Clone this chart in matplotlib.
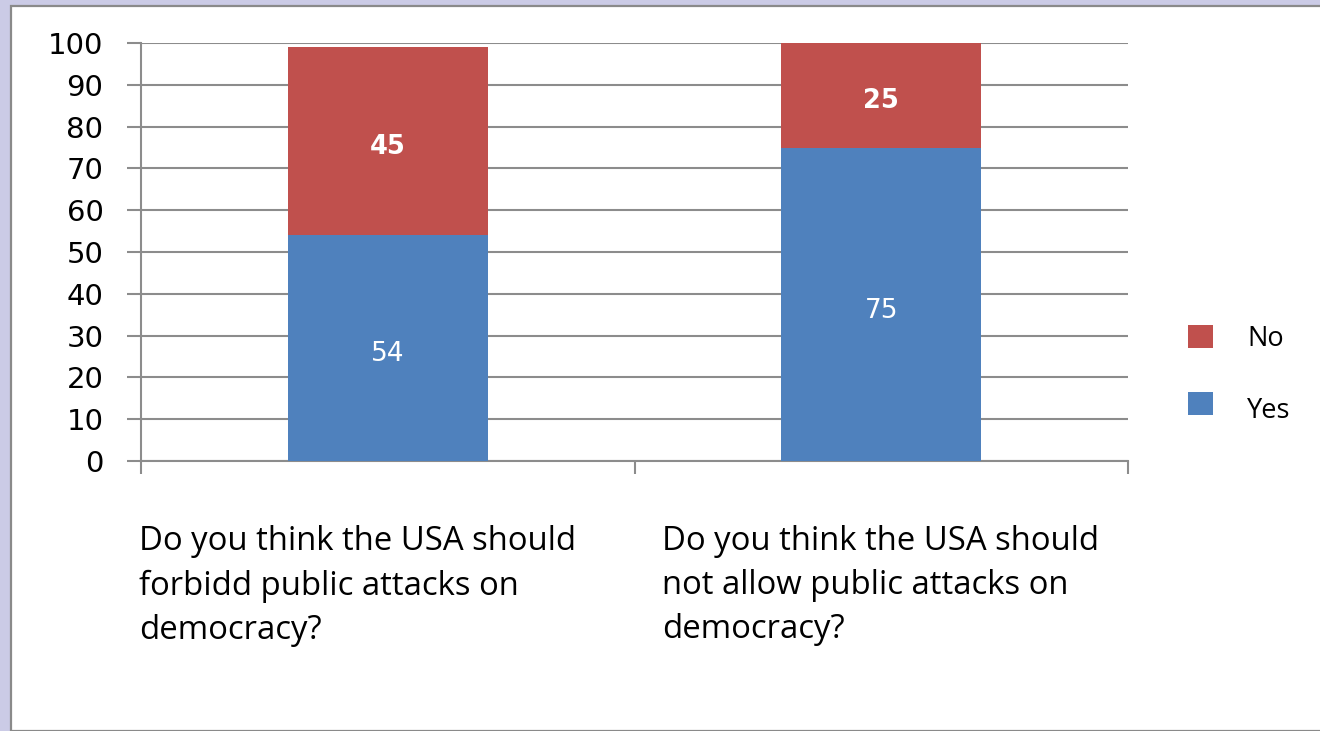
import matplotlib
matplotlib.use("Agg")
import matplotlib.pyplot as plt
from matplotlib.patches import Rectangle

# Survey results (percent)
questions = [
    "Do you think the USA should\nforbidd public attacks on\ndemocracy?",
    "Do you think the USA should\nnot allow public attacks on\ndemocracy?",
]
yes_values = [54, 75]
no_values = [45, 25]
y_ticks = [0, 10, 20, 30, 40, 50, 60, 70, 80, 90, 100]

BLUE = "#4F81BD"
RED = "#C0504D"
GRID = "#8C8C8C"
LAVENDER = "#CBCBE6"

W, H = 1320, 731
fig = plt.figure(figsize=(W / 100, H / 100), dpi=100, facecolor=LAVENDER)

# white panel framed by a thin grey border
fig.patches.append(Rectangle((11 / W, 0), 1.0, (H - 6) / H, transform=fig.transFigure,
                             facecolor="white", edgecolor="#8A8A8A", linewidth=1.6,
                             zorder=-10))

ax = fig.add_axes([141 / W, (H - 461) / H, (1128 - 141) / W, (461 - 43) / H])
ax.set_zorder(1)
ax.set_facecolor("white")

x = list(range(len(questions)))
bw = 0.405
ax.bar(x, yes_values, width=bw, color=BLUE, zorder=3, label="Yes")
ax.bar(x, no_values, width=bw, bottom=yes_values, color=RED, zorder=3, label="No")

# value labels centred in each segment
for i in x:
    ax.annotate(str(yes_values[i]), (i, yes_values[i] / 2), xytext=(0, -4.5),
                textcoords="offset points", ha="center", va="center",
                color="white", fontsize=19, family="DejaVu Sans", zorder=4)
    ax.annotate(str(no_values[i]), (i, yes_values[i] + no_values[i] / 2),
                xytext=(0, -4.5), textcoords="offset points", ha="center",
                va="center", color="white", fontsize=18.5, fontweight="bold",
                family="DejaVu Sans", zorder=4)

ax.set_xlim(-0.5, 1.5)
ax.set_ylim(0, 100)
ax.set_yticks(y_ticks)
ax.set_yticklabels([str(v) for v in y_ticks], fontsize=21, family="DejaVu Sans")
ax.set_xticks([-0.5, 0.5, 1.5])
ax.set_xticklabels([])
ax.tick_params(axis="y", direction="out", length=10, width=1.5, color=GRID, pad=17)
ax.tick_params(axis="x", direction="out", length=9, width=1.5, color=GRID)
ax.grid(axis="y", color=GRID, linewidth=1.5, zorder=1)
for s in ["top", "right"]:
    ax.spines[s].set_visible(False)
for s in ["left", "bottom"]:
    ax.spines[s].set_color(GRID)
    ax.spines[s].set_linewidth(1.5)
    ax.spines[s].set_zorder(2)

# category captions below the axis
for xpx, q in zip([139, 662], questions):
    fig.text(xpx / W, (H - 525) / H, q, ha="left", va="top", fontsize=23.7,
             family="Open Sans", linespacing=1.45, color="black")

# legend: colour keys with their series names
for name, color, cy, ty in [("No", RED, 336, 339), ("Yes", BLUE, 403, 411)]:
    fig.patches.append(Rectangle((1188 / W, (H - cy - 12) / H), 25 / W, 23 / H,
                                 transform=fig.transFigure, facecolor=color,
                                 edgecolor="none", zorder=2))
    fig.text(1247 / W, (H - ty) / H, name, ha="left", va="center", fontsize=19.5,
             family="Open Sans", color="black")

fig.savefig("out.png", dpi=100, facecolor=LAVENDER)
